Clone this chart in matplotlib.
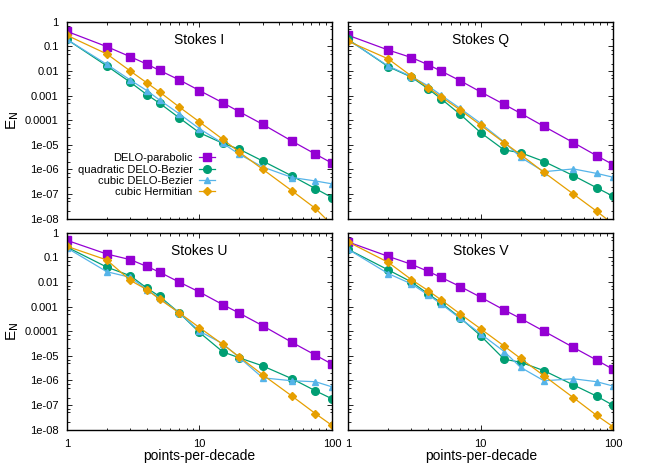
import numpy as np
import matplotlib
matplotlib.use('Agg')
import matplotlib.pyplot as plt
from matplotlib.ticker import LogLocator, NullFormatter, FixedLocator, FixedFormatter

plt.rcParams['font.family'] = ['Liberation Sans', 'DejaVu Sans']

# points per decade (x values shared by all panels)
ppd = [1, 2, 3, 4, 5, 7, 10, 15, 20, 30, 50, 75, 100]

series_names = ['DELO-parabolic', 'quadratic DELO-Bezier', 'cubic DELO-Bezier', 'cubic Hermitian']

# Stokes I
I_parab = [0.405, 0.097, 0.038, 0.019, 0.0105, 0.0044, 0.0016, 5.1e-4, 2.2e-4, 6.8e-5, 1.4e-5, 4.2e-6, 1.8e-6]
I_qbez = [0.19, 0.016, 0.0035, 0.0011, 4.9e-4, 1.27e-4, 3.1e-5, 1.15e-5, 6.6e-6, 2.2e-6, 5.4e-7, 1.66e-7, 7.2e-8]
I_cbez = [0.19, 0.0185, 0.0043, 0.0016, 6.6e-4, 1.85e-4, 4.5e-5, 1.15e-5, 4.1e-6, 1.26e-6, 4.7e-7, 3.4e-7, 2.6e-7]
I_herm = [0.28, 0.049, 0.01, 0.0033, 0.0014, 3.5e-4, 8.5e-5, 1.67e-5, 5.0e-6, 1.02e-6, 1.34e-7, 2.6e-8, 5.6e-9]

# Stokes Q
Q_parab = [0.28, 0.071, 0.035, 0.018, 0.01, 0.004, 0.0014, 4.4e-4, 1.9e-4, 5.6e-5, 1.23e-5, 3.6e-6, 1.56e-6]
Q_qbez = [0.19, 0.015, 0.0056, 0.0019, 7.5e-4, 1.73e-4, 3.1e-5, 6.2e-6, 4.8e-6, 2.1e-6, 5.6e-7, 1.8e-7, 8.1e-8]
Q_cbez = [0.18, 0.016, 0.0059, 0.0025, 0.00105, 3.0e-4, 7.4e-5, 1.3e-5, 3.1e-6, 8.1e-7, 1.05e-6, 6.9e-7, 4.8e-7]
Q_herm = [0.16, 0.031, 0.0062, 0.0021, 9.0e-4, 2.6e-4, 6.2e-5, 1.23e-5, 4.0e-6, 7.6e-7, 1.0e-7, 2.0e-8, 6e-9]

# Stokes U
U_parab = [0.49, 0.136, 0.081, 0.043, 0.025, 0.01, 0.0039, 0.0012, 5.4e-4, 1.67e-4, 3.5e-5, 1.07e-5, 4.6e-6]
U_qbez = [0.26, 0.04, 0.018, 0.0057, 0.0026, 5.7e-4, 8.9e-5, 1.45e-5, 8.3e-6, 3.9e-6, 1.17e-6, 3.8e-7, 1.8e-7]
U_cbez = [0.24, 0.026, 0.0155, 0.0049, 0.0022, 5.7e-4, 1.0e-4, 3.1e-5, 8.5e-6, 1.28e-6, 9.7e-7, 8.9e-7, 5.5e-7]
U_herm = [0.28, 0.078, 0.0117, 0.0049, 0.0020, 5.7e-4, 1.4e-4, 2.9e-5, 9.0e-6, 1.7e-6, 2.3e-7, 4.5e-8, 1.5e-8]

# Stokes V
V_parab = [0.42, 0.11, 0.052, 0.027, 0.0155, 0.0065, 0.0024, 7.3e-4, 3.3e-4, 1.0e-4, 2.2e-5, 6.7e-6, 2.8e-6]
V_qbez = [0.21, 0.031, 0.01, 0.0033, 0.00145, 3.5e-4, 6.5e-5, 7.3e-6, 5.5e-6, 2.5e-6, 6.6e-7, 2.3e-7, 9.7e-8]
V_cbez = [0.21, 0.022, 0.0083, 0.003, 0.0013, 3.3e-4, 7.8e-5, 1.5e-5, 3.4e-6, 9.7e-7, 1.17e-6, 8.9e-7, 5.9e-7]
V_herm = [0.42, 0.063, 0.0124, 0.0045, 0.0019, 5.0e-4, 1.24e-4, 2.5e-5, 7.8e-6, 1.55e-6, 2.0e-7, 3.8e-8, 1.3e-8]

panels = [
    ('Stokes I', [I_parab, I_qbez, I_cbez, I_herm]),
    ('Stokes Q', [Q_parab, Q_qbez, Q_cbez, Q_herm]),
    ('Stokes U', [U_parab, U_qbez, U_cbez, U_herm]),
    ('Stokes V', [V_parab, V_qbez, V_cbez, V_herm]),
]

colors = ['#9400d3', '#009e73', '#56b4e9', '#e69f00']
markers = ['s', 'o', '^', 'D']
msizes = [6, 5.5, 4.5, 3.8]

ytick_vals = [1, 0.1, 0.01, 0.001, 0.0001, 1e-5, 1e-6, 1e-7, 1e-8]
ytick_labels = ['1', '0.1', '0.01', '0.001', '0.0001', '1e-05', '1e-06', '1e-07', '1e-08']
xtick_vals = [1, 10, 100]
xtick_labels = ['1', '10', '100']

fig = plt.figure(figsize=(6.64, 4.65), dpi=100)

# axes positions [left, bottom, width, height] in figure fraction
lefts = [0.1009, 0.5245]
bottoms = [0.5297, 0.0759]
w = 0.3991
h = 0.4236

for k, (title, data) in enumerate(panels):
    row, col = divmod(k, 2)
    ax = fig.add_axes([lefts[col], bottoms[row], w, h])
    for vals, c, m, ms, name in zip(data, colors, markers, msizes, series_names):
        ax.plot(ppd, vals, color=c, marker=m, markersize=ms, lw=0.9, label=name, clip_on=True)
    ax.set_xscale('log')
    ax.set_yscale('log')
    ax.set_xlim(1, 100)
    ax.set_ylim(1e-8, 1)

    ax.yaxis.set_major_locator(FixedLocator(ytick_vals))
    ax.yaxis.set_minor_locator(LogLocator(base=10, subs=(2, 5, 7), numticks=20))
    ax.yaxis.set_minor_formatter(NullFormatter())
    ax.xaxis.set_major_locator(FixedLocator(xtick_vals))
    ax.xaxis.set_minor_locator(LogLocator(base=10, subs=np.arange(2, 10), numticks=20))
    ax.xaxis.set_minor_formatter(NullFormatter())

    if col == 0:
        ax.yaxis.set_major_formatter(FixedFormatter(ytick_labels))
        ax.text(-0.205, 0.5, r'E$_\mathrm{N}$', transform=ax.transAxes, rotation=90,
                ha='center', va='center', fontsize=11)
    else:
        ax.yaxis.set_major_formatter(NullFormatter())
    if row == 1:
        ax.xaxis.set_major_formatter(FixedFormatter(xtick_labels))
        ax.set_xlabel('points-per-decade', fontsize=10, labelpad=0)
    else:
        ax.xaxis.set_major_formatter(NullFormatter())

    ax.tick_params(which='both', direction='in', top=True, right=True, labelsize=8, width=0.6)
    ax.tick_params(axis='y', which='major', length=3.5, pad=6)
    ax.tick_params(axis='x', which='major', length=3.5, pad=6.5)
    ax.tick_params(which='minor', length=1.8)
    for sp in ax.spines.values():
        sp.set_linewidth(1.0)

    ax.text(0.5, 0.905, title, transform=ax.transAxes, ha='center', va='center', fontsize=10)

    if k == 0:
        ax.legend(loc='upper right', bbox_to_anchor=(0.575, 0.355), frameon=False,
                  markerfirst=False, fontsize=8, labelspacing=0.12, handlelength=1.4,
                  handletextpad=0.6, borderaxespad=0)

fig.savefig('out.png', dpi=100)
